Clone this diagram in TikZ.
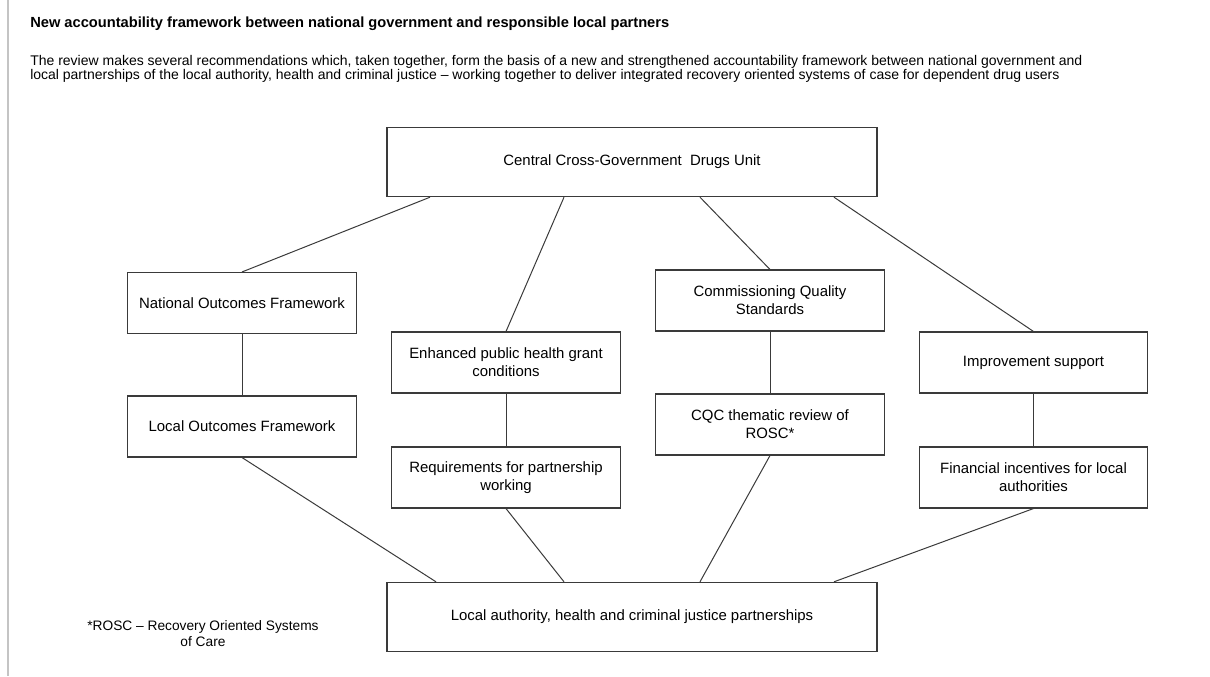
\documentclass[tikz,border=0pt]{standalone}
\usepackage{fontspec}
\setmainfont{Liberation Sans}
\usepackage{tikz}
\usetikzlibrary{positioning}
\definecolor{boxgray}{HTML}{3A3A3A}
\definecolor{rulegray}{HTML}{C4C4C4}

\begin{document}
\begin{tikzpicture}[
x=0.75pt, y=-0.75pt,
Boxes/.style={draw=boxgray, line width=0.8pt, fill=white, align=center,
  font=\fontsize{11.2}{13.6}\selectfont, inner sep=2pt},
WideBox/.style={Boxes, minimum width=367.5pt, minimum height=52pt},
SmallBox/.style={Boxes, minimum width=171.5pt, minimum height=45.75pt},
Links/.style={draw=boxgray, line width=0.75pt},
Texts/.style={align=left, inner sep=0pt, text=black}
]
\useasboundingbox (0,0) rectangle (1210,676);

% page margin rule
\draw[rulegray, line width=1pt] (8,0) -- (8,676);

\node[Texts, anchor=base west, font=\fontsize{11}{13}\bfseries] (title) at (30,27)
{New accountability framework between national government and responsible local partners};

\node[Texts, anchor=north west, font=\fontsize{10.5}{10.5}\selectfont] (intro) at (30,55)
{The review makes several recommendations which, taken together, form the basis of a new and strengthened accountability framework between national government and\\
local partnerships of the local authority, health and criminal justice -- working together to deliver integrated recovery oriented systems of case for dependent drug users};

% top and bottom boxes
\node[WideBox] (cgdu) at (632,162) {Central Cross-Government\ \ Drugs Unit};
\node[WideBox] (lahcj) at (632,617) {Local authority, health and criminal justice partnerships};

% first column
\node[SmallBox] (nof) at (242,303) {National Outcomes Framework};
\node[SmallBox] (lof) at (242,426.5) {Local Outcomes Framework};

% second column
\node[SmallBox] (ephg) at (506,362.5) {Enhanced public health grant\\conditions};
\node[SmallBox] (rpw) at (506,477.5) {Requirements for partnership\\working};

% third column
\node[SmallBox] (cqs) at (770,300.5) {Commissioning Quality\\Standards};
\node[SmallBox] (cqc) at (770,424.5) {CQC thematic review of\\ROSC*};

% fourth column
\node[SmallBox] (imp) at (1033.5,362.5) {Improvement support};
\node[SmallBox] (fin) at (1033.5,477.5) {Financial incentives for local\\authorities};

\draw[Links] ([xshift=-151.5pt]cgdu.south) -- (nof.north);
\draw[Links] ([xshift=-51pt]cgdu.south) -- (ephg.north);
\draw[Links] ([xshift=51pt]cgdu.south) -- (cqs.north);
\draw[Links] ([xshift=151.5pt]cgdu.south) -- (imp.north);

\draw[Links] (nof.south) -- (lof.north);
\draw[Links] (ephg.south) -- (rpw.north);
\draw[Links] (cqs.south) -- (cqc.north);
\draw[Links] (imp.south) -- (fin.north);

\draw[Links] (lof.south) -- ([xshift=-147pt]lahcj.north);
\draw[Links] (rpw.south) -- ([xshift=-51pt]lahcj.north);
\draw[Links] (cqc.south) -- ([xshift=51pt]lahcj.north);
\draw[Links] (fin.south) -- ([xshift=151.5pt]lahcj.north);

\node[Texts, align=center, font=\fontsize{10.3}{12}\selectfont] (note) at (203,634)
{*ROSC -- Recovery Oriented Systems\\of Care};

\end{tikzpicture}
\end{document}
